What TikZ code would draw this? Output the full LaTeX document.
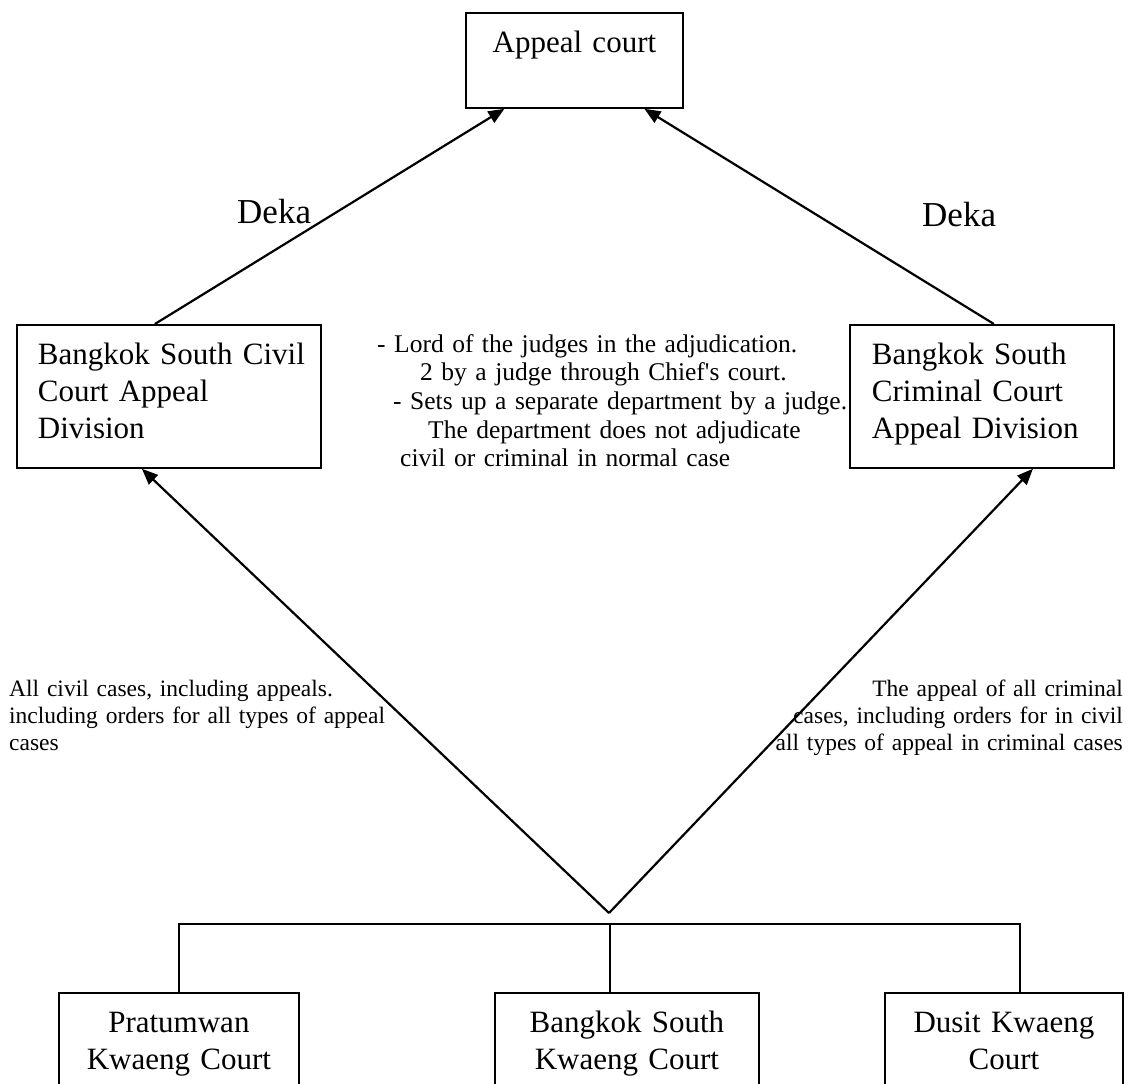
\documentclass[tikz,border=0pt]{standalone}
\usepackage{fontspec}
\setmainfont{Liberation Serif}
\usetikzlibrary{arrows.meta, positioning, calc}

\begin{document}
\begin{tikzpicture}[
    x=1pt, y=-1pt,
    court/.style={rectangle, draw, line width=1.8pt, anchor=north west,
      inner xsep=0pt, inner ysep=0pt, text height=40pt,
      font=\fontsize{31}{37}\selectfont},
    arrow/.style={-{Triangle[length=16pt,width=13pt]}, line width=2.2pt},
    link/.style={line width=1.4pt},
    deka/.style={anchor=base west, inner sep=0pt, font=\fontsize{35}{40}\selectfont},
    cases/.style={inner sep=0pt, text width=420pt, font=\fontsize{23.5}{27}\selectfont}
  ]
  \clip (0,0) rectangle (1131,1083);

  % Appeal court
  \node[court, text width=217pt, text depth=55pt, align=center] (appeal) at (465,12) {Appeal court};

  % Appeal divisions
  \node[court, inner xsep=21pt, text width=262pt, text depth=103pt, align=left] (civil) at (16,324)
    {\mbox{Bangkok South Civil}\\Court Appeal\\Division};
  \node[court, inner xsep=22pt, text width=220pt, text depth=103pt, align=left] (criminal) at (849,324)
    {Bangkok South\\Criminal Court\\Appeal Division};

  % Kwaeng courts
  \node[court, text width=240pt, text depth=80pt, align=center] (pratumwan) at (58,992) {Pratumwan\\Kwaeng Court};
  \node[court, text width=264pt, text depth=80pt, align=center] (southkw) at (494,992) {Bangkok South\\Kwaeng Court};
  \node[court, text width=238pt, text depth=80pt, align=center] (dusit) at (884,992) {Dusit Kwaeng\\Court};

  % Deka
  \draw[arrow] ([xshift=-14pt]civil.north) -- ([xshift=-70pt]appeal.south);
  \draw[arrow] ([xshift=12pt]criminal.north) -- ([xshift=70pt]appeal.south);
  \node[deka] (dekaL) at (237,224) {Deka};
  \node[deka] (dekaR) at (922,226) {Deka};

  % Note between the divisions
  \node[anchor=base west, inner sep=0pt, text width=520pt, align=left,
    font=\fontsize{25.5}{28.7}\selectfont] (note) at (377,352)
    {- Lord of the judges in the adjudication.\\
     \hspace*{43pt}2 by a judge through Chief\textquotesingle s court.\\
     \hspace*{16pt}- Sets up a separate department by a judge.\\
     \hspace*{51pt}The department does not adjudicate\\
     \hspace*{23pt}civil or criminal in normal case};

  % Appeals from the Kwaeng courts
  \coordinate (apex) at (609,913);
  \coordinate (bus) at (610,924);
  \draw[arrow] (apex) -- ([xshift=-27pt]civil.south);
  \draw[arrow] (apex) -- ([xshift=51pt]criminal.south);
  \node[cases, anchor=base west, align=left] (civilcases) at (9,696)
    {All civil cases, including appeals.\\including orders for all types of appeal\\cases};
  \node[cases, anchor=base east, align=right] (crimcases) at (1123,696)
    {The appeal of all criminal\\cases, including orders for in civil\\all types of appeal in criminal cases};

  % Links
  \draw[link] (pratumwan.north) |- ([xshift=16pt]dusit.north |- bus) -- ([xshift=16pt]dusit.north);
  \draw[link] (bus) -- (southkw.north -| bus);
\end{tikzpicture}
\end{document}
